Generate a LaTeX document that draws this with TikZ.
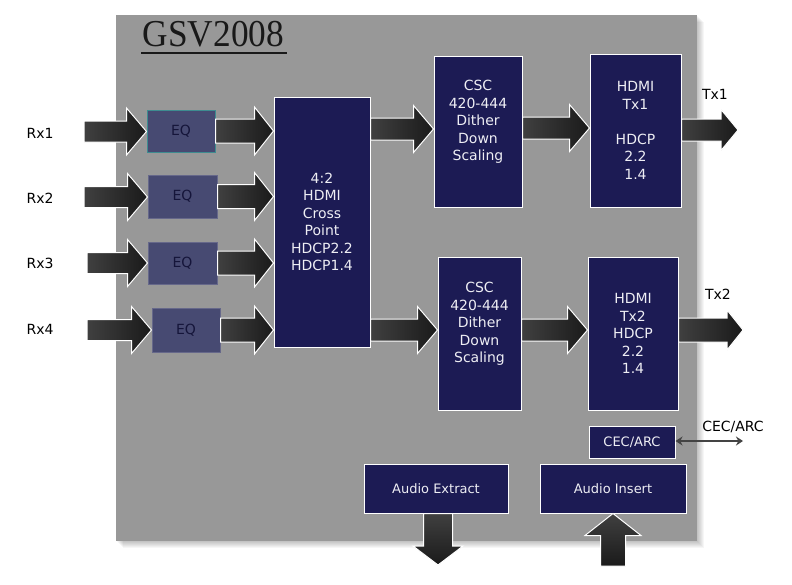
\documentclass[tikz,border=0pt]{standalone}
\usepackage{fontspec}
\setmainfont{DejaVu Sans}
\newfontfamily\titlefont{Liberation Serif}
\usetikzlibrary{calc,arrows.meta}

\definecolor{panel}{HTML}{989898}
\definecolor{navy}{HTML}{1C1B54}
\definecolor{eqfill}{HTML}{474A72}
\definecolor{eqedge}{HTML}{66688A}
\definecolor{eqteal}{HTML}{3E8C90}
\definecolor{arrA}{HTML}{404040}
\definecolor{arrB}{HTML}{1A1A1A}
\definecolor{txtw}{HTML}{EEEEF4}
\definecolor{eqtxt}{HTML}{15153A}
\definecolor{cecline}{HTML}{444444}

\tikzset{
  navybox/.style={draw=white, line width=1pt, fill=navy, inner sep=0pt, text=txtw,
    align=center, font=\fontsize{14}{17.5}\selectfont},
  eqbox/.style={draw=eqedge, line width=1pt, fill=eqfill, inner sep=0pt, text=eqtxt,
    font=\fontsize{14}{17}\selectfont},
  wtext/.style={text=txtw, align=center, inner sep=0pt, font=\fontsize{14}{17.5}\selectfont},
  lbl/.style={text=black, inner sep=0pt, font=\fontsize{14}{17}\selectfont},
  harr/.style={draw=white, line width=1pt, left color=arrA, right color=arrB},
  varr/.style={draw=white, line width=1pt, top color=arrA, bottom color=arrB},
}

% horizontal block arrow: start, tip, body half, head half, head length
\newcommand{\harrow}[5]{%
  \path[harr] let \p1=(#1), \p2=(#2) in
    (\x1,\y1+#3) -- (\x2-#5,\y1+#3) -- (\x2-#5,\y1+#4) -- (\x2,\y1)
    -- (\x2-#5,\y1-#4) -- (\x2-#5,\y1-#3) -- (\x1,\y1-#3) -- cycle;}
% downward block arrow
\newcommand{\darrow}[5]{%
  \path[varr] let \p1=(#1), \p2=(#2) in
    (\x1-#3,\y1) -- (\x1-#3,\y2+#5) -- (\x1-#4,\y2+#5) -- (\x1,\y2)
    -- (\x1+#4,\y2+#5) -- (\x1+#3,\y2+#5) -- (\x1+#3,\y1) -- cycle;}
% upward block arrow
\newcommand{\uarrow}[5]{%
  \path[varr] let \p1=(#1), \p2=(#2) in
    (\x1-#3,\y1) -- (\x1-#3,\y2-#5) -- (\x1-#4,\y2-#5) -- (\x1,\y2)
    -- (\x1+#4,\y2-#5) -- (\x1+#3,\y2-#5) -- (\x1+#3,\y1) -- cycle;}

\begin{document}
\begin{tikzpicture}[x=1pt,y=-1pt]
\useasboundingbox (0,0) rectangle (792,584);
\fill[white] (0,0) rectangle (792,584);

% shadow + panel
\foreach \i in {1,...,7}{
  \fill[black, opacity=0.035] (116+\i,15+\i) rectangle (697+\i,541+\i);
}
\fill[panel] (116,15) rectangle (697,541);

% title
\node[font=\titlefont\fontsize{38}{40}\selectfont, inner sep=0pt, text=black!90, xscale=0.93] (title) at (213.5,34) {GSV2008};
\draw[line width=2pt, black!90] (141,53) -- (287,53);

% EQ boxes
\node[eqbox, draw=eqteal, minimum width=68pt, minimum height=42pt] (eq1) at (181,131) {EQ};
\node[eqbox, minimum width=69pt, minimum height=43pt] (eq2) at (182.5,196.5) {EQ};
\node[eqbox, minimum width=69pt, minimum height=42pt] (eq3) at (182.5,263) {EQ};
\node[eqbox, minimum width=68pt, minimum height=44pt] (eq4) at (186,330) {EQ};

% main blocks
\node[navybox, minimum width=96pt, minimum height=250pt] (cross) at (322,222)
  {4:2\\HDMI\\Cross\\Point\\HDCP2.2\\HDCP1.4};
\node[navybox, minimum width=88pt, minimum height=151pt] (csc1) at (478,131.5) {};
\node[wtext] (csc1t) at (478,122) {CSC\\420-444\\Dither\\Down\\Scaling};
\node[navybox, minimum width=83pt, minimum height=153pt] (csc2) at (479.5,333.5) {};
\node[wtext] (csc2t) at (479.5,324) {CSC\\420-444\\Dither\\Down\\Scaling};
\node[navybox, minimum width=91pt, minimum height=153pt] (tx1) at (635.5,130.5)
  {HDMI\\Tx1\\[17.5pt]HDCP\\2.2\\1.4};
\node[navybox, minimum width=90pt, minimum height=153pt] (tx2) at (633,333.5)
  {HDMI\\Tx2\\HDCP\\2.2\\1.4};
\node[navybox, font=\fontsize{13}{16}\selectfont, minimum width=86pt, minimum height=32pt] (cec) at (632,442) {CEC/ARC};
\node[navybox, font=\fontsize{13}{16}\selectfont, minimum width=144pt, minimum height=49pt] (ext) at (436,488.5) {Audio Extract};
\node[navybox, font=\fontsize{13}{16}\selectfont, minimum width=146pt, minimum height=49pt] (ins) at (613,488.5) {Audio Insert};

% input labels and arrows
\node[lbl] (rx1) at (40,133) {Rx1};
\node[lbl] (rx2) at (40,198) {Rx2};
\node[lbl] (rx3) at (40,263) {Rx3};
\node[lbl] (rx4) at (40,329) {Rx4};
\coordinate (r1) at (84,131.5);
\coordinate (r2) at (84,197);
\coordinate (r3) at (87,263);
\coordinate (r4) at (87,330);
\harrow{r1}{eq1.west}{10.5pt}{23.5pt}{20pt}
\harrow{r2}{eq2.west}{10.5pt}{23.5pt}{20pt}
\harrow{r3}{eq3.west}{10.5pt}{23.5pt}{20pt}
\harrow{r4}{eq4.west}{10.5pt}{23.5pt}{20pt}

% EQ -> crosspoint
\harrow{eq1.east}{cross.west}{12pt}{24pt}{19pt}
\harrow{eq2.east}{cross.west}{12pt}{24pt}{19pt}
\harrow{eq3.east}{cross.west}{12pt}{24pt}{19pt}
\harrow{eq4.east}{cross.west}{12pt}{24pt}{19pt}

% crosspoint -> CSC
\harrow{cross.east |- 0,129}{csc1.west}{11pt}{23.5pt}{20pt}
\harrow{cross.east |- 0,330}{csc2.west}{11pt}{23.5pt}{20pt}

% CSC -> HDMI Tx
\harrow{csc1.east |- 0,128}{tx1.west}{11pt}{23.5pt}{20pt}
\harrow{csc2.east |- 0,330}{tx2.west}{11pt}{23.5pt}{20pt}

% outputs
\coordinate (o1) at (738,130);
\coordinate (o2) at (743,330);
\harrow{tx1.east |- 0,130}{o1}{11pt}{20.5pt}{17pt}
\harrow{tx2.east |- 0,330}{o2}{12pt}{20pt}{16pt}
\node[lbl] (tx1l) at (715,94) {Tx1};
\node[lbl] (tx2l) at (718,294) {Tx2};

% CEC/ARC
\coordinate (cecend) at (743,441);
\draw[cecline, line width=2.5pt, {Stealth[length=7pt,width=9pt]}-{Stealth[length=7pt,width=9pt]}]
  (cec.east |- 0,441) -- (cecend);
\node[lbl] (cecl) at (733,427) {CEC/ARC};

% audio arrows
\coordinate (d1) at (438,565);
\darrow{ext.south -| d1}{d1}{14.5pt}{25pt}{19pt}
\coordinate (u1) at (613,566);
\uarrow{u1}{ins.south}{12.5pt}{28pt}{22pt}
\end{tikzpicture}
\end{document}
